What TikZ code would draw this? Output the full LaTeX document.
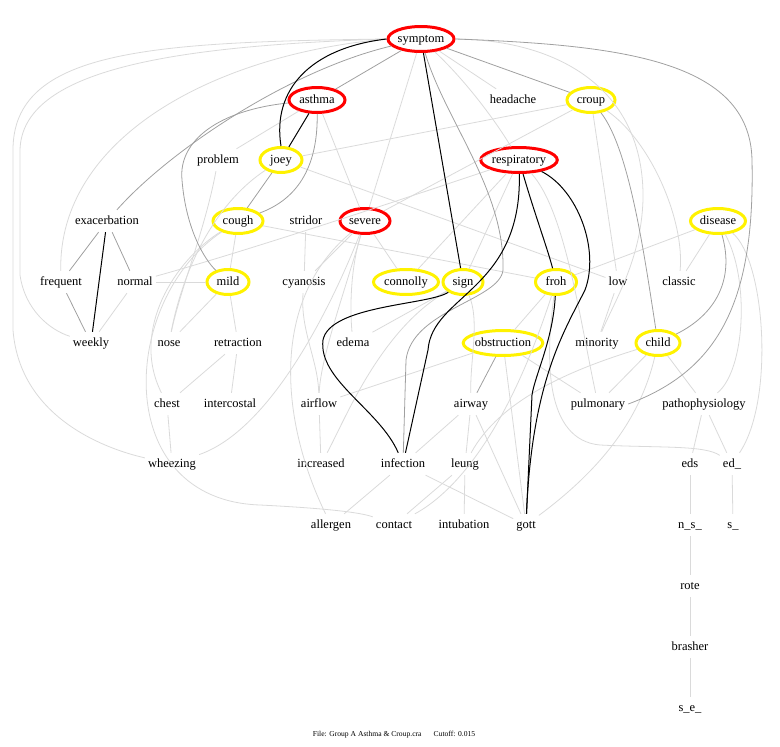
\documentclass[tikz,border=0pt]{standalone}
\usepackage{fontspec}
\setmainfont{Liberation Serif}
\usetikzlibrary{shapes.geometric}
\definecolor{lg}{RGB}{218,218,218}
\definecolor{dg}{RGB}{160,160,160}
\begin{document}
\begin{tikzpicture}[x=1pt,y=-1pt,
  lbl/.style={font=\fontsize{12.5}{14}\selectfont, inner xsep=3pt, text height=8.5pt, text depth=2.5pt, minimum height=22pt},
  hr/.style={lbl, ellipse, draw=red, line width=3pt, minimum height=24pt, inner xsep=0pt},
  hy/.style={lbl, ellipse, draw=yellow, line width=3pt, minimum height=24pt, inner xsep=0pt},
  e1/.style={draw=lg, line width=0.8pt},
  e2/.style={draw=dg, line width=0.8pt},
  e3/.style={draw=black, line width=1pt}]
\useasboundingbox (0,0) rectangle (780,747);
% nodes
\node[hr, minimum width=66pt] (symptom) at (421,39) {symptom};
\node[hr, minimum width=56pt] (asthma) at (317,100) {asthma};
\node[lbl] (headache) at (513,100) {headache};
\node[hy, minimum width=48pt] (croup) at (591,100) {croup};
\node[lbl] (problem) at (218,160) {problem};
\node[hy, minimum width=42pt] (joey) at (281,160) {joey};
\node[hr, minimum width=76pt] (respiratory) at (519,160) {respiratory};
\node[lbl] (exacerbation) at (107,221) {exacerbation};
\node[hy, minimum width=50pt] (cough) at (238,221) {cough};
\node[lbl] (stridor) at (306,221) {stridor};
\node[hr, minimum width=50pt] (severe) at (365,221) {severe};
\node[hy, minimum width=55pt] (disease) at (718,221) {disease};
\node[lbl] (frequent) at (61,282) {frequent};
\node[lbl] (normal) at (135,282) {normal};
\node[hy, minimum width=42pt] (mild) at (228,282) {mild};
\node[lbl] (cyanosis) at (304,282) {cyanosis};
\node[hy, minimum width=65pt] (connolly) at (406,282) {connolly};
\node[hy, minimum width=40pt] (sign) at (463,282) {sign};
\node[hy, minimum width=41pt] (froh) at (556,282) {froh};
\node[lbl] (low) at (618,282) {low};
\node[lbl] (classic) at (679,282) {classic};
\node[lbl] (weekly) at (91,343) {weekly};
\node[lbl] (nose) at (169,343) {nose};
\node[lbl] (retraction) at (238,343) {retraction};
\node[lbl] (edema) at (353,343) {edema};
\node[hy, minimum width=78pt] (obstruction) at (503,343) {obstruction};
\node[lbl] (minority) at (597,343) {minority};
\node[hy, minimum width=44pt] (child) at (658,343) {child};
\node[lbl] (chest) at (167,404) {chest};
\node[lbl] (intercostal) at (230,404) {intercostal};
\node[lbl] (airflow) at (319,404) {airflow};
\node[lbl] (airway) at (471,404) {airway};
\node[lbl] (pulmonary) at (598,404) {pulmonary};
\node[lbl] (patho) at (704,404) {pathophysiology};
\node[lbl] (wheezing) at (172,464) {wheezing};
\node[lbl] (increased) at (321,464) {increased};
\node[lbl] (infection) at (403,464) {infection};
\node[lbl] (leung) at (465,464) {leung};
\node[lbl] (eds) at (690,464) {eds};
\node[lbl] (edu) at (732,464) {ed\_};
\node[lbl] (allergen) at (331,525) {allergen};
\node[lbl] (contact) at (394,525) {contact};
\node[lbl] (intubation) at (464,525) {intubation};
\node[lbl] (gott) at (526,525) {gott};
\node[lbl] (nsu) at (690,525) {n\_s\_};
\node[lbl] (su) at (733,525) {s\_};
\node[lbl] (rote) at (690,586) {rote};
\node[lbl] (brasher) at (690,647) {brasher};
\node[lbl] (seu) at (690,708) {s\_e\_};
\node[font=\fontsize{7.6}{9}\selectfont] (footer) at (394,735) {File: Group A Asthma \& Croup.cra\hspace{1.6em}Cutoff: 0.015};

% light gray edges
\draw[e1] (symptom) -- (headache);
\draw[e1] (symptom) .. controls (465,80) and (495,120) .. (respiratory);
\draw[e1] (symptom) -- (severe);
\draw[e1] (symptom.west) .. controls (150,42) and (13,50) .. (13,150) -- (13,330) .. controls (20,420) and (110,450) .. (wheezing);
\draw[e1] (symptom.west) .. controls (170,46) and (22,70) .. (20,150) -- (20,275) .. controls (25,310) and (50,330) .. (weekly);
\draw[e1] (symptom.west) .. controls (210,55) and (58,140) .. (frequent);
\draw[e1] (symptom.east) .. controls (560,40) and (645,90) .. (643,200) .. controls (641,260) and (615,300) .. (minority);
\draw[e1] (asthma) -- (problem);
\draw[e1] (problem) .. controls (205,230) and (180,290) .. (nose);
\draw[e1] (joey) -- (croup);
\draw[e1] (joey) -- (low);
\draw[e1] (joey) .. controls (220,200) and (185,260) .. (nose);
\draw[e1] (asthma) -- (severe);
\draw[e1] (cough) -- (froh);
\draw[e1] (cough) -- (mild);
\draw[e1] (cough) .. controls (175,260) and (130,330) .. (chest);
\draw[e1] (cough) .. controls (120,300) and (110,500) .. (260,505) .. controls (320,508) and (360,512) .. (contact);
\draw[e1] (mild) -- (nose);
\draw[e1] (mild) -- (retraction);
\draw[e1] (mild) -- (normal);
\draw[e1] (retraction) -- (chest);
\draw[e1] (retraction) -- (intercostal);
\draw[e1] (chest) -- (wheezing);
\draw[e1] (wheezing) .. controls (270,430) and (330,310) .. (severe);
\draw[e1] (stridor) -- (cyanosis);
\draw[e1] (severe) -- (cyanosis);
\draw[e1] (severe) -- (connolly);
\draw[e1] (severe) .. controls (350,270) and (350,310) .. (edema);
\draw[e1] (severe) .. controls (345,290) and (320,360) .. (airflow);
\draw[e1] (severe) .. controls (270,300) and (280,420) .. (allergen);
\draw[e1] (cyanosis) .. controls (300,330) and (318,360) .. (airflow);
\draw[e1] (airflow) -- (increased);
\draw[e1] (airflow) -- (obstruction);
\draw[e1] (increased) .. controls (345,420) and (380,330) .. (sign);
\draw[e1] (edema) -- (sign);
\draw[e1] (infection) -- (allergen);
\draw[e1] (infection) -- (gott);
\draw[e1] (leung) -- (contact);
\draw[e1] (leung) -- (intubation);
\draw[e1] (airway) -- (leung);
\draw[e1] (airway) -- (infection);
\draw[e1] (airway) -- (gott);
\draw[e1] (obstruction) -- (gott);
\draw[e1] (contact) .. controls (450,495) and (505,440) .. (froh);
\draw[e1] (gott) .. controls (600,470) and (640,420) .. (child);
\draw[e1] (child) .. controls (570,370) and (500,400) .. (leung);
\draw[e1] (obstruction) -- (pulmonary);
\draw[e1] (froh) -- (obstruction);
\draw[e1] (froh) .. controls (545,360) and (545,440) .. (600,445) .. controls (660,448) and (705,445) .. (edu);
\draw[e1] (patho) -- (eds);
\draw[e1] (patho) -- (edu);
\draw[e1] (eds) -- (nsu);
\draw[e1] (edu) -- (su);
\draw[e1] (nsu) -- (rote);
\draw[e1] (rote) -- (brasher);
\draw[e1] (brasher) -- (seu);
\draw[e1] (child) -- (patho);
\draw[e1] (child) -- (pulmonary);
\draw[e1] (low) -- (minority);
\draw[e1] (disease) -- (classic);
\draw[e1] (disease) -- (froh);
\draw[e1] (disease) .. controls (765,260) and (775,400) .. (edu);
\draw[e1] (disease) .. controls (750,280) and (745,370) .. (patho);
\draw[e1] (croup) -- (severe);
\draw[e1] (croup) -- (low);
\draw[e1] (croup) .. controls (650,140) and (685,220) .. (classic);
\draw[e1] (respiratory) .. controls (400,200) and (250,250) .. (normal);
\draw[e1] (respiratory) -- (connolly);
\draw[e1] (respiratory) -- (sign);
\draw[e1] (respiratory) .. controls (565,210) and (580,320) .. (pulmonary);
\draw[e1] (sign) .. controls (480,320) and (470,360) .. (airway);
\draw[e1] (normal) -- (weekly);

% dark gray edges
\draw[e2] (symptom) -- (asthma);
\draw[e2] (symptom) -- (croup);
\draw[e2] (symptom.east) .. controls (620,45) and (750,60) .. (752,160) .. controls (755,300) and (720,370) .. (pulmonary.east);
\draw[e2] (croup) .. controls (630,150) and (645,260) .. (child);
\draw[e2] (disease) .. controls (735,280) and (715,315) .. (child);
\draw[e2] (asthma) .. controls (318,170) and (295,200) .. (cough);
\draw[e2] (joey) -- (cough);
\draw[e2] (symptom) .. controls (290,70) and (170,150) .. (exacerbation);
\draw[e2] (asthma) .. controls (220,110) and (178,140) .. (182,180) .. controls (186,230) and (205,260) .. (mild);
\draw[e2] (exacerbation) -- (frequent);
\draw[e2] (exacerbation) -- (normal);
\draw[e2] (frequent) -- (weekly);
\draw[e2] (obstruction) -- (airway);
\draw[e2] (symptom) .. controls (445,120) and (505,190) .. (503,270) .. controls (500,300) and (412,310) .. (406,360) -- (infection);

% black edges
\draw[e3] (symptom.west) .. controls (310,48) and (272,90) .. (joey.north);
\draw[e3] (symptom) -- (sign);
\draw[e3] (asthma) -- (joey);
\draw[e3] (exacerbation) -- (weekly);
\draw[e3] (respiratory) .. controls (522,290) and (432,295) .. (428,350) -- (infection);
\draw[e3] (respiratory) .. controls (535,215) and (548,250) .. (froh);
\draw[e3] (respiratory) .. controls (578,190) and (600,250) .. (585,290) .. controls (565,330) and (532,380) .. (gott);
\draw[e3] (froh) .. controls (553,340) and (535,375) .. (532,395) -- (gott);
\draw[e3] (sign) .. controls (430,305) and (330,305) .. (323,340) .. controls (318,380) and (380,410) .. (infection);
\end{tikzpicture}
\end{document}
